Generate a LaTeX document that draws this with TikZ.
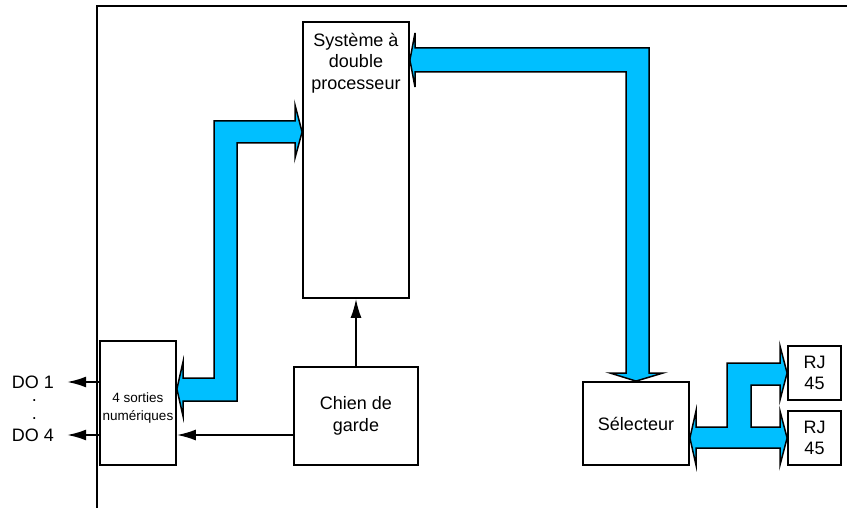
\documentclass[tikz,border=0pt]{standalone}
\usepackage{fontspec}
\setmainfont{Liberation Sans}
\usetikzlibrary{arrows.meta,positioning,calc}
\definecolor{buscyan}{RGB}{0,191,255}
\tikzset{
  box/.style={draw=black, line width=1.8pt, align=center, inner sep=2pt, font=\fontsize{18}{21.5}\selectfont},
  txt/.style={align=center, inner sep=1pt, font=\fontsize{18}{21.5}\selectfont},
  smalltxt/.style={align=center, inner sep=1pt, font=\fontsize{13.5}{18}\selectfont},
  arrow/.style={-{Latex[length=19pt,width=11pt]}, line width=1.8pt},
  bus/.style={fill=buscyan, draw=black, line width=1.5pt, line join=miter},
  frame/.style={line width=1.8pt}
}

\begin{document}
\begin{tikzpicture}[x=1pt, y=-1pt]
\useasboundingbox (0,0) rectangle (847,508);
% frame
\draw[frame] (97,508) -- (97,6) -- (847,6);
% blocks
\node[box, minimum width=106pt, minimum height=276pt] (sys) at (356,160) {};
\node[txt, anchor=north] (systxt) at (356,32) {Système à\\double\\processeur};
\node[box, minimum width=76pt, minimum height=124pt] (sorties) at (138,403) {};
\node[smalltxt] (sortiestxt) at (138,408) {4 sorties\\numériques};
\node[box, minimum width=124pt, minimum height=98pt] (chien) at (356,416) {Chien de\\garde};
\node[box, minimum width=106pt, minimum height=83pt] (selecteur) at (636,423.5) {Sélecteur};
\node[box, minimum width=53pt, minimum height=54pt] (rj1) at (814.5,373) {RJ\\45};
\node[box, minimum width=53pt, minimum height=54pt] (rj2) at (814.5,438) {RJ\\45};
% outputs
\node[txt] (do1) at (33,382) {DO 1};
\node[txt] (dot1) at (34.5,401) {.};
\node[txt] (dot2) at (34.5,419) {.};
\node[txt] (do4) at (33,435) {DO 4};
\draw[arrow] (sorties.west |- do1.east) -- ([xshift=12pt]do1.east);
\draw[arrow] (sorties.west |- do4.east) -- ([xshift=12pt]do4.east);
\draw[arrow] (chien.west |- do4.east) -- (sorties.east |- do4.east);
\draw[arrow] (chien.north) -- (sys.south);
% buses
\draw[bus] (sys.west |- 0,132) -- (295,105) -- (295,121) -- (214,121) -- (214,378)
  -- (183,378) -- (183,362) -- (sorties.east |- 0,389) -- (183,416) -- (183,401)
  -- (237,401) -- (237,143) -- (295,143) -- (295,158) -- cycle;
\draw[bus] (sys.east |- 0,60) -- (415,33) -- (415,48) -- (649,48) -- (649,373)
  -- (663,373) -- (selecteur.north) -- (610,373) -- (626,373) -- (626,72)
  -- (415,72) -- (415,87) -- cycle;
\draw[bus] (selecteur.east |- 0,438) -- (696,411) -- (696,427) -- (727,427)
  -- (727,363) -- (780,363) -- (780,346) -- (rj1.west) -- (780,400) -- (780,385)
  -- (751,385) -- (751,427) -- (780,427) -- (780,411) -- (rj2.west) -- (780,465)
  -- (780,448) -- (696,448) -- (696,465) -- cycle;
\end{tikzpicture}
\end{document}
